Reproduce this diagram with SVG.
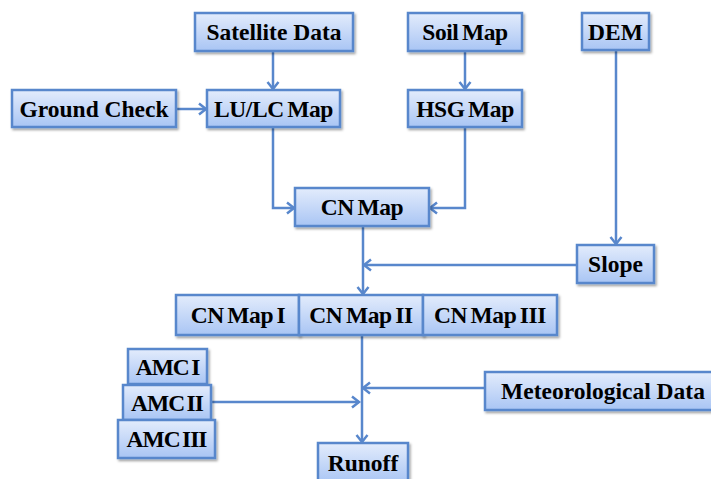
<svg xmlns="http://www.w3.org/2000/svg" width="711" height="479" viewBox="0 0 711 479">
<defs>
<linearGradient id="g" x1="0" y1="0" x2="0" y2="1">
<stop offset="0" stop-color="#e3ecfc"/>
<stop offset="1" stop-color="#a9c5f4"/>
</linearGradient>
<filter id="sh" x="-10%" y="-20%" width="130%" height="150%">
<feDropShadow dx="1.5" dy="2" stdDeviation="1.2" flood-color="#000" flood-opacity="0.35"/>
</filter>
<marker id="ah" markerWidth="14" markerHeight="14" refX="11" refY="7" orient="auto" markerUnits="userSpaceOnUse">
<polyline points="4,1.5 11,7 4,12.5" fill="none" stroke="#5887cc" stroke-width="2.5"/>
</marker>
</defs>
<style>
.b{fill:url(#g);stroke:#5887cc;stroke-width:2.5;filter:url(#sh)}
.t{font-family:"Liberation Serif","Times New Roman",serif;font-weight:bold;font-size:23.5px;fill:#000;text-anchor:middle}
.n{word-spacing:-2px;letter-spacing:-0.4px}
.a{word-spacing:-2.5px;letter-spacing:-1px}
.c{fill:none;stroke:#5887cc;stroke-width:2.5}
</style>
<rect width="711" height="479" fill="#fff"/>
<g id="connectors">
<line class="c" x1="273" y1="51" x2="273" y2="89" marker-end="url(#ah)"/>
<line class="c" x1="176" y1="109" x2="206" y2="109" marker-end="url(#ah)"/>
<line class="c" x1="465" y1="51" x2="465" y2="89" marker-end="url(#ah)"/>
<polyline class="c" points="273,127 273,208 294,208" marker-end="url(#ah)"/>
<polyline class="c" points="465,127 465,208 430,208" marker-end="url(#ah)"/>
<line class="c" x1="616" y1="50" x2="616" y2="244" marker-end="url(#ah)"/>
<line class="c" x1="363" y1="226" x2="363" y2="294" marker-end="url(#ah)"/>
<line class="c" x1="577" y1="265" x2="364" y2="265" marker-end="url(#ah)"/>
<line class="c" x1="362" y1="335" x2="362" y2="442" marker-end="url(#ah)"/>
<line class="c" x1="485" y1="388" x2="363" y2="388" marker-end="url(#ah)"/>
<line class="c" x1="211" y1="402" x2="359" y2="402" marker-end="url(#ah)"/>
</g>
<g id="satellite"><rect class="b" x="195" y="13" width="158" height="38"/><text class="t" x="274" y="40">Satellite Data</text></g>
<g id="soilmap"><rect class="b" x="408" y="13" width="114" height="38"/><text class="t n" x="465" y="40">Soil Map</text></g>
<g id="dem"><rect class="b" x="582" y="13" width="67" height="37"/><text class="t" x="615.5" y="40">DEM</text></g>
<g id="groundcheck"><rect class="b" x="12" y="90" width="164" height="37"/><text class="t" x="94" y="117">Ground Check</text></g>
<g id="lulc"><rect class="b" x="207" y="90" width="133" height="37"/><text class="t n" x="273.5" y="117">LU/LC Map</text></g>
<g id="hsg"><rect class="b" x="408" y="90" width="114" height="37"/><text class="t n" x="465" y="117">HSG Map</text></g>
<g id="cnmap"><rect class="b" x="295" y="188" width="134" height="38"/><text class="t n" x="362" y="215">CN Map</text></g>
<g id="slope"><rect class="b" x="577" y="245" width="77" height="38"/><text class="t" x="615.5" y="272">Slope</text></g>
<g id="cnmap1"><rect class="b" x="176" y="295" width="123" height="40"/><text class="t n" x="238" y="323">CN Map I</text></g>
<g id="cnmap2"><rect class="b" x="299" y="295" width="124" height="40"/><text class="t n" x="361" y="323">CN Map II</text></g>
<g id="cnmap3"><rect class="b" x="423" y="295" width="134" height="40"/><text class="t n" x="490" y="323">CN Map III</text></g>
<g id="amc1"><rect class="b" x="128" y="349" width="79" height="35"/><text class="t a" x="167.5" y="375">AMC I</text></g>
<g id="amc2"><rect class="b" x="123" y="385" width="88" height="35"/><text class="t a" x="167" y="411">AMC II</text></g>
<g id="amc3"><rect class="b" x="118" y="420" width="97" height="38"/><text class="t a" x="166.5" y="447">AMC III</text></g>
<g id="meteo"><rect class="b" x="485" y="372" width="228" height="38"/><text class="t" x="603" y="399">Meteorological Data</text></g>
<g id="runoff"><rect class="b" x="318" y="443" width="90" height="40"/><text class="t" x="363" y="471">Runoff</text></g>
</svg>
